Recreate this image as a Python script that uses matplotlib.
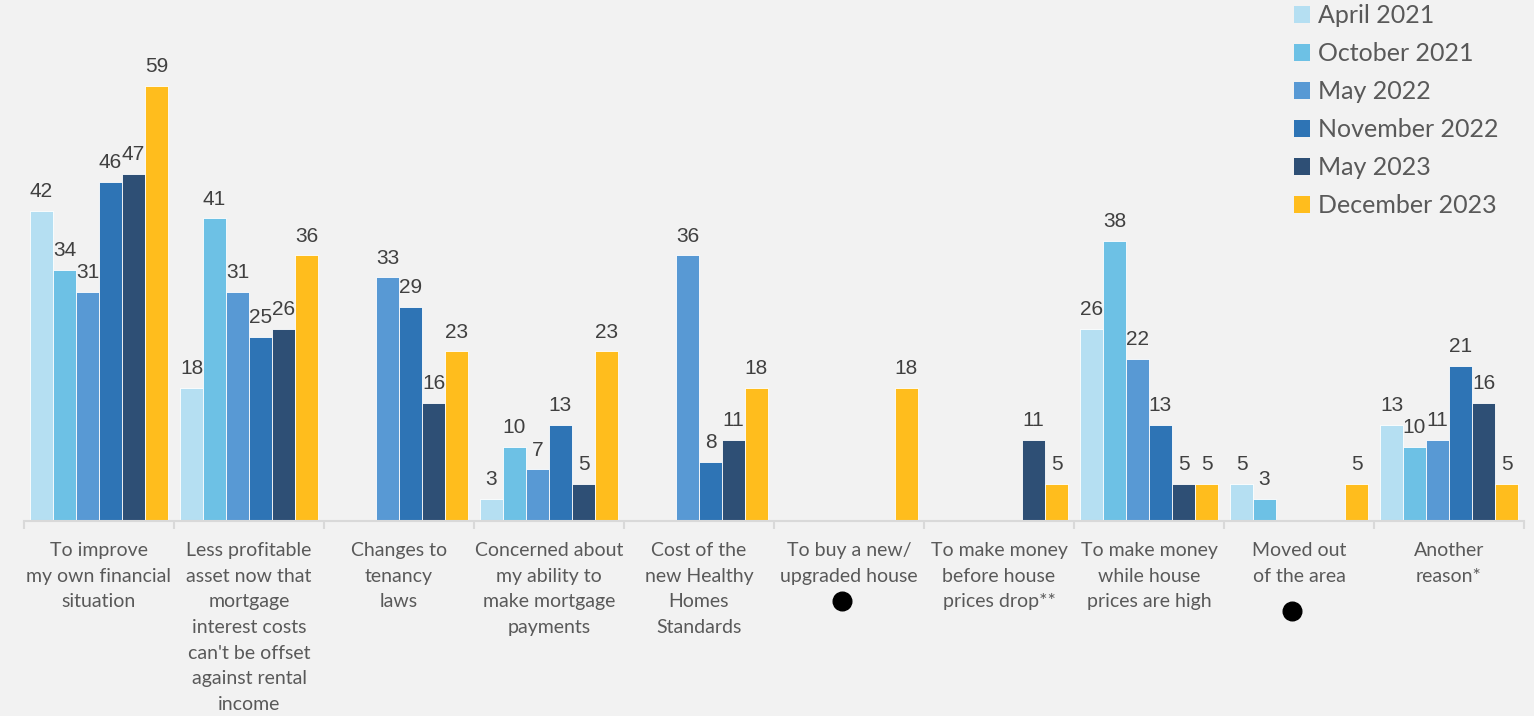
import numpy as np
import matplotlib

matplotlib.use("Agg")
import matplotlib.pyplot as plt
from matplotlib.patches import Patch

nan = np.nan

categories = [
    "To improve\nmy own financial\nsituation",
    "Less profitable\nasset now that\nmortgage\ninterest costs\ncan't be offset\nagainst rental\nincome",
    "Changes to\ntenancy\nlaws",
    "Concerned about\nmy ability to\nmake mortgage\npayments",
    "Cost of the\nnew Healthy\nHomes\nStandards",
    "To buy a new/\nupgraded house",
    "To make money\nbefore house\nprices drop**",
    "To make money\nwhile house\nprices are high",
    "Moved out\nof the area",
    "Another\nreason*",
]

series_names = ["April 2021", "October 2021", "May 2022", "November 2022", "May 2023", "December 2023"]

april_2021 = [42, 18, nan, 3, nan, nan, nan, 26, 5, 13]
october_2021 = [34, 41, nan, 10, nan, nan, nan, 38, 3, 10]
may_2022 = [31, 31, 33, 7, 36, nan, nan, 22, nan, 11]
november_2022 = [46, 25, 29, 13, 8, nan, nan, 13, nan, 21]
may_2023 = [47, 26, 16, 5, 11, nan, 11, 5, nan, 16]
december_2023 = [59, 36, 23, 23, 18, 18, 5, 5, 5, 5]

# categories marked with a black dot under the label
dot_categories = [5, 8]

colors = ["#b5dff2", "#6dc1e5", "#5899d4", "#2e74b5", "#2e4f75", "#ffbd1d"]
series = [april_2021, october_2021, may_2022, november_2022, may_2023, december_2023]

W, H = 1534, 716
fig = plt.figure(figsize=(W / 100, H / 100), dpi=100)
fig.patch.set_facecolor("#f2f2f2")
ax = fig.add_axes([24 / W, 195 / H, 1500 / W, 516.6 / H])
ax.set_facecolor("#f2f2f2")

x = np.arange(len(categories))
bw = 23 / 150
for j, (vals, col) in enumerate(zip(series, colors)):
    pos = x + (j - 2.5) * bw
    v = np.array(vals, dtype=float)
    ax.bar(pos, v, width=bw, color=col, edgecolor="#ffffff", linewidth=0.6)
    for px, val in zip(pos, v):
        if np.isnan(val):
            continue
        ax.annotate(f"{val:.0f}", (px, val), xytext=(0, 7), textcoords="offset points",
                    ha="center", va="bottom", fontsize=15, color="#404040",
                    family="Liberation Sans")

ax.set_xlim(-0.5, len(categories) - 0.5)
ax.set_ylim(0, 70)
ax.set_yticks([])
for s in ["top", "right", "left"]:
    ax.spines[s].set_visible(False)
ax.spines["bottom"].set_color("#d9d9d9")
ax.spines["bottom"].set_linewidth(1.5)

ax.set_xticks(x)
ax.set_xticklabels(categories, fontsize=14, color="#595959", family="Lato", linespacing=1.62)
ax.tick_params(axis="x", which="major", length=0, pad=15)
ax.set_xticks(np.arange(-0.5, len(categories)), minor=True)
ax.tick_params(axis="x", which="minor", length=6, width=1.5, color="#d9d9d9")

for c in dot_categories:
    yy = -0.155 if c == 5 else -0.174
    ax.scatter([c - 0.045], [yy], s=180, color="black", transform=ax.get_xaxis_transform(),
               clip_on=False, zorder=5)

handles = [Patch(facecolor=c, edgecolor="none") for c in colors]
leg = fig.legend(handles, series_names, loc="upper left", bbox_to_anchor=(1284 / W, 1.008),
                 frameon=False, fontsize=18, handlelength=0.65, handleheight=0.65,
                 handletextpad=0.3, labelspacing=0.6, borderaxespad=0)
for t in leg.get_texts():
    t.set_color("#595959")
    t.set_family("Lato")

fig.savefig("out.png", dpi=100, facecolor=fig.get_facecolor())
